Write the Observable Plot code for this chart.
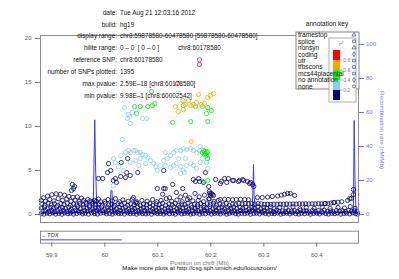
<!DOCTYPE html>
<html><head><meta charset="utf-8">
<script src="https://cdn.jsdelivr.net/npm/d3@7"></script>
<script src="https://cdn.jsdelivr.net/npm/@observablehq/plot@0.6"></script>
<style>body{margin:0;background:#fff;} #chart svg{display:block;}</style>
</head><body><div id="chart"></div>
<script>
// ---------------- data ----------------
const infoLabels = ["date:","build:","display range:","hilite range:","reference SNP:","number of SNPs plotted:","max pvalue:","min pvalue:"];
const infoValues = ["Tue Aug 21 12:03:16 2012","hg19","chr8:59878580-60478580 [59878580-60478580]","0 \u2013 0  [ 0 \u2013 0 ]","chr8:60178580","1395","2.59E\u201318 [chr8:60178580]","9.98E\u20131 [chr8:60002542]"];
const annotationKeys = ["framestop","splice","nonsyn","coding","utr","tfbscons","mcs44placental","no annotation","none"];
const annotationSymbols = ["triangle","square","triangle","diamond","square","square","square","diamond","circle"];
const r2Colors = ["#ff0000","#ffa500","#00ff00","#87cefa","#000080"];
const r2Labels = ["0.8","0.6","0.4","0.2"];
const leftTicks = [0,5,10,15,20];
const recombTicks = [0,20,40,60,80,100];
const xTicks = [59.9,60.0,60.1,60.2,60.3,60.4];
const genes = [{name:"TOX", start:59.718, end:60.032}];
const refSnp = [{name:"chr8:60178580", pos:60.1786, logp:17.59}];

const recombPos = [59.879,59.892,59.905,59.918,59.932,59.946,59.960,59.972,59.978,59.9795,59.981,59.9825,59.985,59.995,60.004,60.010,60.0115,60.0135,60.015,60.020,60.035,60.055,60.075,60.095,60.115,60.135,60.155,60.175,60.190,60.210,60.230,60.250,60.270,60.278,60.2795,60.2805,60.2815,60.284,60.300,60.320,60.340,60.360,60.380,60.400,60.420,60.440,60.455,60.466,60.469,60.4705,60.472,60.474,60.479];
const recombRate = [0.6,0.9,0.5,1.1,0.7,1.3,0.8,1.6,2.5,30,55.7,28,2.0,1.2,0.9,2.0,14,14,2.2,0.8,1.0,0.6,1.2,0.7,0.9,1.4,0.8,1.1,1.6,0.9,0.7,1.2,1.5,2.5,15,29.4,12,1.8,0.8,1.0,0.6,0.9,1.3,0.7,1.0,1.2,1.4,1.3,3,55.3,20,1.5,1.2];

const red = [[60.1786,17.05],[60.137,14.88]];
const orange = [[60.147,12.95],[60.152,12.50],[60.148,11.93],[60.162,12.38],[60.139,11.70],[60.133,12.27],[60.167,12.50],[60.173,12.72],[60.177,13.63],[60.182,12.50],[60.188,12.61],[60.194,13.29],[60.199,13.52],[60.205,13.75],[60.163,8.29],[60.158,12.95]];
const green = [[60.056,12.27],[60.067,12.27],[60.081,12.27],[60.090,12.38],[60.094,12.61],[60.060,11.48],[60.088,13.97],[60.128,10.45],[60.148,12.38],[60.171,12.27],[60.162,10.56],[60.192,11.48],[60.194,10.56],[60.184,12.27],[60.194,12.16],[60.201,11.81],
 [60.184,7.04],[60.188,7.16],[60.190,6.93],[60.192,7.04],[60.194,7.16],[60.188,6.82],[60.192,6.7],[60.186,7.27],[60.194,6.36],[60.194,3.86],[60.184,3.75]];
const lightblue = [[60.037,12.16],[60.045,11.36],[60.047,11.13],[60.052,11.59],[60.048,10.34],[60.043,10.91],[60.071,10.91],[60.079,10.91],[60.033,8.52],
 [60.016,6.36],[60.020,5.91],[60.026,5.45],[60.030,6.70],[60.039,7.04],[60.045,7.27],[60.048,7.04],[60.054,7.27],[60.058,7.27],[60.062,7.04],[60.067,7.04],[60.071,6.82],[60.077,6.70],[60.081,6.48],[60.086,6.13],[60.092,5.79],[60.096,5.45],[60.099,5.00],[60.058,6.13],[60.067,6.36],[60.048,5.91],[60.064,5.57],[60.077,5.79],[60.035,5.00],
 [60.111,6.13],[60.118,6.36],[60.124,6.70],[60.130,7.04],[60.135,7.27],[60.143,7.27],[60.148,7.50],[60.154,7.38],[60.162,7.50],[60.167,7.27],[60.173,7.04],[60.179,7.27],[60.180,7.73],[60.105,5.57],[60.114,5.57],[60.124,5.34],[60.130,5.57],[60.135,5.79],[60.143,5.45],[60.148,5.00],[60.154,5.57],[60.162,5.79],[60.167,5.57],[60.173,5.23],[60.180,5.91],[60.184,6.36],[60.192,5.91],[60.194,5.23],[60.139,6.36],[60.152,6.36],[60.114,7.04],
 [60.016,3.30],[60.143,4.66],[60.150,4.77]];
const navy = [
 [59.880,.10],[59.885,.04],[59.891,.16],[59.896,.08],[59.902,.19],[59.907,.05],[59.913,.13],[59.919,.03],[59.924,.18],[59.930,.09],[59.935,.15],[59.941,.05],[59.947,.11],[59.952,.2],[59.958,.07],[59.963,.14],[59.969,.04],[59.975,.17],[59.981,.09],[59.986,.05],[59.992,.15],[59.998,.2],[60.003,.07],[60.009,.12],[60.014,.04],[60.020,.17],[60.026,.1],[60.031,.14],[60.037,.05],[60.043,.19],[60.048,.09],[60.054,.13],[60.060,.04],[60.065,.17],[60.071,.1],[60.077,.07],[60.082,.15],[60.088,.04],[60.094,.19],[60.099,.1],[60.105,.12],[60.111,.05],[60.116,.17],[60.122,.09],[60.128,.14],[60.133,.04],[60.139,.19],[60.145,.07],[60.150,.12],[60.156,.15],[60.162,.05],[60.167,.1],[60.173,.17],[60.179,.04],[60.184,.13],[60.190,.09],[60.196,.19],[60.201,.05],[60.207,.12],[60.213,.15],[60.218,.07],[60.224,.17],[60.230,.04],[60.235,.11],[60.241,.19],[60.247,.09],[60.252,.05],[60.258,.14],[60.264,.1],[60.269,.17],[60.275,.04],[60.281,.12],[60.286,.15],[60.292,.07],[60.298,.19],[60.303,.1],[60.309,.05],[60.315,.13],[60.320,.09],[60.326,.17],[60.332,.04],[60.337,.12],[60.343,.15],[60.349,.07],[60.354,.19],[60.360,.1],[60.366,.05],[60.371,.14],[60.377,.09],[60.383,.17],[60.388,.04],[60.394,.12],[60.400,.15],[60.405,.07],[60.411,.19],[60.417,.1],[60.422,.05],[60.428,.13],[60.434,.09],[60.439,.17],[60.445,.04],[60.451,.12],[60.456,.15],[60.462,.07],[60.468,.19],[60.473,.1],[60.477,.05],
 [59.882,.38],[59.888,.45],[59.894,.32],[59.900,.48],[59.905,.35],[59.911,.42],[59.917,.3],[59.922,.47],[59.928,.36],[59.934,.44],[59.939,.33],[59.945,.49],[59.950,.38],[59.956,.3],[59.962,.45],[59.967,.36],[59.973,.42],[59.979,.32],[59.985,.48],[59.990,.37],[59.996,.43],[60.002,.31],[60.007,.46],[60.013,.35],[60.018,.41],[60.024,.3],[60.029,.47],[60.035,.38],[60.041,.44],[60.046,.33],[60.052,.49],[60.058,.36],[60.063,.42],[60.069,.31],[60.075,.46],[60.080,.38],[60.086,.44],[60.091,.32],[60.097,.48],[60.103,.36],[60.108,.41],[60.114,.3],[60.120,.46],[60.125,.37],[60.131,.44],[60.137,.33],[60.142,.48],[60.148,.36],[60.154,.42],[60.159,.31],[60.165,.46],[60.171,.38],[60.176,.44],[60.182,.32],[60.188,.48],[60.193,.36],[60.199,.42],[60.205,.3],[60.210,.46],[60.216,.37],[60.222,.44],[60.227,.33],[60.233,.49],[60.239,.36],[60.244,.41],[60.250,.31],[60.256,.46],[60.261,.38],[60.267,.44],[60.273,.32],[60.278,.48],[60.284,.36],[60.290,.42],[60.295,.3],[60.301,.46],[60.307,.37],[60.312,.44],[60.318,.33],[60.324,.48],[60.329,.36],[60.335,.41],[60.341,.31],[60.346,.46],[60.352,.38],[60.358,.44],[60.363,.32],[60.369,.48],[60.375,.36],[60.380,.42],[60.386,.3],[60.392,.46],[60.397,.37],[60.403,.44],[60.409,.33],[60.414,.49],[60.420,.36],[60.426,.41],[60.431,.31],[60.437,.46],[60.443,.38],[60.448,.44],[60.454,.32],[60.460,.48],[60.465,.36],[60.471,.42],[60.476,.3],
 [59.880,.72],[59.886,.85],[59.892,.65],[59.898,.8],[59.903,.7],[59.909,.88],[59.915,.62],[59.920,.78],[59.926,.68],[59.932,.84],[59.937,.6],[59.943,.75],[59.949,.9],[59.954,.66],[59.960,.8],[59.966,.7],[59.971,.86],[59.977,.63],[59.983,.77],[59.988,.69],[59.994,.85],[60.000,.62],[60.005,.8],[60.011,.72],[60.017,.88],[60.022,.65],[60.028,.79],[60.034,.7],[60.039,.86],[60.045,.61],[60.051,.76],[60.056,.68],[60.062,.84],[60.068,.63],[60.073,.78],[60.079,.7],[60.085,.87],[60.090,.64],[60.096,.8],[60.102,.7],[60.107,.85],[60.113,.62],[60.119,.76],[60.124,.69],[60.130,.88],[60.136,.65],[60.141,.8],[60.147,.71],[60.153,.84],[60.158,.6],[60.164,.77],[60.170,.68],[60.175,.86],[60.181,.63],[60.187,.79],[60.192,.7],[60.198,.88],[60.204,.64],[60.209,.8],[60.215,.72],[60.221,.85],[60.226,.62],[60.232,.77],[60.238,.69],[60.243,.86],[60.249,.65],[60.255,.8],[60.260,.7],[60.266,.84],[60.272,.62],[60.277,.78],[60.283,.7],[60.289,.88],[60.294,.64],[60.300,.8],[60.306,.71],[60.312,.85],[60.320,.66],[60.330,.8],[60.342,.72],[60.355,.86],[60.368,.65],[60.380,.78],[60.395,.7],[60.410,.84],[60.425,.68],[60.440,.8],[60.452,.74],[60.463,.9],[60.472,.7],
 [59.881,1.2],[59.887,1.05],[59.893,1.28],[59.899,1.1],[59.905,1.22],[59.911,1.02],[59.917,1.25],[59.923,1.12],[59.929,1.3],[59.935,1.05],[59.941,1.18],[59.947,1.08],[59.953,1.27],[59.959,1.1],[59.965,1.2],[59.971,1.03],[59.977,1.26],[59.983,1.12],[59.989,1.22],[59.995,1.06],[60.001,1.28],[60.007,1.1],[60.013,1.2],[60.019,1.04],[60.025,1.25],[60.031,1.12],[60.037,1.3],[60.043,1.06],[60.049,1.2],[60.055,1.1],[60.061,1.27],[60.067,1.03],[60.073,1.18],[60.079,1.1],[60.085,1.25],[60.091,1.05],[60.097,1.2],[60.103,1.12],[60.109,1.28],[60.115,1.04],[60.121,1.22],[60.127,1.1],[60.133,1.26],[60.139,1.06],[60.145,1.2],[60.151,1.12],[60.157,1.3],[60.163,1.05],[60.169,1.18],[60.175,1.1],[60.181,1.25],[60.187,1.04],[60.193,1.22],[60.199,1.12],[60.205,1.28],[60.211,1.06],[60.217,1.2],[60.223,1.1],[60.229,1.26],[60.235,1.04],[60.241,1.18],[60.247,1.12],[60.253,1.25],[60.259,1.2],[60.265,1.24],[60.271,1.22],[60.277,1.25],[60.283,1.2],[60.289,1.24],[60.295,1.22],[60.301,1.14],[60.307,1.16],[60.313,1.15],[60.319,1.17],[60.325,1.16],[60.331,1.18],[60.337,1.17],[60.343,1.19],[60.349,1.18],[60.355,1.2],[60.361,1.19],[60.367,1.21],[60.373,1.2],[60.379,1.22],[60.385,1.2],[60.391,1.22],[60.397,1.21],[60.403,1.23],[60.409,1.22],[60.415,1.24],[60.421,1.23],[60.427,1.3],[60.433,1.36],[60.440,1.4],[60.447,1.45],
 [59.880,1.6],[59.884,1.9],[59.888,1.5],[59.892,2.1],[59.896,1.7],[59.900,2.25],[59.904,1.55],[59.908,2.35],[59.912,1.8],[59.916,2.3],[59.920,1.6],[59.924,2.2],[59.928,1.75],[59.932,2.05],[59.936,1.5],[59.940,1.95],[59.944,1.65],[59.948,2.0],[59.952,1.5],[59.956,1.85],[59.960,1.6],[59.964,1.4],[59.968,1.7],[59.972,1.55],[59.976,1.45],[59.980,1.6],[59.984,1.5],[59.988,1.75],[59.992,1.45],
 [60.000,1.5],[60.006,1.7],[60.014,1.55],[60.020,1.8],[60.028,1.45],[60.034,1.65],[60.044,1.5],[60.052,1.75],[60.060,1.45],[60.070,1.6],[60.080,1.5],[60.090,1.7],[60.098,1.45],[60.106,1.6],[60.116,1.8],[60.126,1.5],[60.136,1.65],[60.146,1.45],[60.156,1.7],[60.166,1.55],[60.176,1.6],[60.186,1.45],[60.196,1.75],[60.206,1.5],[60.214,1.6],
 [60.218,1.7],[60.226,1.72],[60.233,1.7],[60.241,1.68],[60.248,1.7],[60.256,1.72],[60.264,1.7],[60.271,1.68],
 [60.288,1.93],[60.297,1.93],[60.307,1.98],[60.316,2.05],[60.326,2.1],[60.333,2.2],[60.339,2.3],[60.345,2.39],[60.350,2.39],[60.358,2.16],
 [59.939,3.41],[59.941,2.95],[59.937,2.73],[59.943,3.18],
 [59.996,4.09],[60.007,5.79],[60.011,5.0],[60.005,4.77],[60.016,3.86],[60.020,4.09],[60.030,4.32],[60.039,4.2],[60.041,4.77],[60.031,5.91],[60.043,6.36],[60.054,1.93],[60.058,1.36],[60.099,2.95],[60.111,2.95],[60.111,5.0],[60.128,3.41],[60.147,2.95],[60.167,3.98],[60.177,4.09],[59.988,4.09],[60.062,4.77],[60.048,4.43],[60.022,3.64],[60.114,2.95],[60.171,3.75],[60.179,3.75],[60.186,3.64],[60.196,3.18],[60.197,2.61],[60.203,2.27],[60.199,2.16],[60.218,3.52],[60.230,3.64],[60.233,4.09],[60.241,3.86],[60.252,3.75],[60.262,3.86],[60.273,3.52],[60.190,4.77],[60.209,3.98],[60.220,3.75],[60.226,4.09],[60.243,3.86],[60.254,3.86],[60.260,3.98],[60.269,3.75],[60.275,3.64],[60.279,3.41],[60.281,3.18],[60.201,2.39],[60.205,2.16],[60.197,1.8],[60.198,2.4],
 [60.109,2.3],[60.122,1.9],[60.135,2.5],[60.143,2.0],[60.152,2.2],[60.160,1.9],[60.170,2.4],[60.178,2.0],[60.188,2.2],
 [60.469,2.84],[60.465,1.82],[60.462,1.82],[60.458,1.59],[60.469,2.27],[60.432,1.36],[60.416,1.25]
];

// ---------------- layout / style ----------------
const FONT = "'Liberation Sans', Arial, Helvetica, sans-serif";
const xDomain = [59.8786, 60.4786];
const K = 0.1932; // recombination rate -> -log10 p scale factor
const recomb = recombPos.map((p, i) => ({pos: p, rate: recombRate[i]}));
const X = d => d[0], Y = d => d[1];
const dotOpts = (c) => ({x: X, y: Y, r: 2.1, stroke: c, strokeWidth: 0.8});
const geneRows = genes.map(d => ({...d, x1: Math.max(d.start, xDomain[0]), lane: 0.28, labelLane: 0.64}));

const main = Plot.plot({
  width: 399, height: 226,
  marginLeft: 40, marginRight: 41, marginTop: 35, marginBottom: 4,
  x: {domain: xDomain, axis: null},
  y: {domain: [-0.909, 20.34], axis: null},
  style: {fontFamily: FONT, fontSize: "6px", background: "white", overflow: "visible"},
  marks: [
    Plot.line(recomb, {x: "pos", y: d => d.rate * K, stroke: "#3a3aff", strokeWidth: 1}),
    Plot.dot(navy, dotOpts("#000080")),
    Plot.dot(lightblue, dotOpts("#87cefa")),
    Plot.dot(green, dotOpts("#00f000")),
    Plot.dot(orange, dotOpts("#ffa500")),
    Plot.dot(red, dotOpts("#ff0000")),
    Plot.dot(refSnp, {x: "pos", y: "logp", r: 2.1, stroke: "#9632b8", strokeWidth: 0.8}),
    Plot.text(refSnp, {x: "pos", y: "logp", text: "name", dy: -12, fontSize: 6.4, fill: "#111"}),
    Plot.frame({stroke: "#8c8c8c", strokeWidth: 1}),
    Plot.axisY({ticks: leftTicks, anchor: "left", tickSize: 5, tickPadding: 4, stroke: "#777", fill: "#555", label: null}),
    Plot.axisY({ticks: recombTicks.map(r => r * K), tickFormat: d => Math.round(d / K), anchor: "right",
      tickSize: 5, tickPadding: 2.5, stroke: "#6d6dff", fill: "#6d6dff", label: null})
  ]
});

const geneplot = Plot.plot({
  width: 399, height: 53,
  marginLeft: 40, marginRight: 41, marginTop: 4.7, marginBottom: 36.3,
  x: {domain: xDomain, axis: null},
  y: {domain: [0, 1], axis: null},
  style: {fontFamily: FONT, fontSize: "6px", background: "white", overflow: "visible"},
  marks: [
    Plot.frame({stroke: "#8c8c8c", strokeWidth: 1}),
    Plot.link(geneRows, {x1: "x1", x2: "end", y1: "lane", y2: "lane", stroke: "#4848b8", strokeWidth: 1}),
    Plot.text(geneRows, {x: "x1", y: "labelLane", text: d => "\u2190" + d.name,
      textAnchor: "start", dx: 1, fontStyle: "italic", fontSize: 5.6, fill: "#111"}),
    Plot.axisX({ticks: xTicks, tickFormat: d => String(+d.toFixed(1)), tickSize: 4, tickPadding: 6, stroke: "#777", fill: "#555", label: null}),
    Plot.text(["Position on chr8 (Mb)"], {frameAnchor: "bottom", dy: 21.6, fill: "#777", fontSize: 6.2}),
    Plot.text(["Make more plots at http://csg.sph.umich.edu/locuszoom/"], {frameAnchor: "bottom", dy: 26.6, fill: "#111", fontSize: 6.2})
  ]
});

const chart = document.getElementById("chart");
chart.appendChild(main);
chart.appendChild(geneplot);

// ---------------- annotations (info text, legends) ----------------
const svg = d3.select(main);
const g = svg.append("g").attr("font-family", FONT).attr("text-anchor", "start");

// info block
const infoY0 = 12.3, infoStep = 11.93, infoFs = 6.4;
g.append("g").selectAll("text").data(infoLabels).join("text")
  .attr("x", 117).attr("y", (d, i) => infoY0 + i * infoStep + 0.36 * infoFs)
  .attr("text-anchor", "end").attr("font-size", infoFs).attr("fill", "#111").text(d => d);
g.append("g").selectAll("text").data(infoValues).join("text")
  .attr("x", 120).attr("y", (d, i) => infoY0 + i * infoStep + 0.36 * infoFs)
  .attr("text-anchor", "start").attr("font-size", infoFs).attr("fill", "#111").style("white-space", "pre").text(d => d);

// annotation key box
g.append("text").attr("x", 327).attr("y", 24 + 2.3).attr("text-anchor", "middle")
  .attr("font-size", 6.5).attr("fill", "#111").text("annotation key");
g.append("rect").attr("x", 296).attr("y", 32).attr("width", 63).attr("height", 57)
  .attr("fill", "white").attr("stroke", "#666").attr("stroke-width", 0.8);

// r2 legend
g.append("rect").attr("x", 329).attr("y", 38).attr("width", 27).attr("height", 64)
  .attr("fill", "white").attr("stroke", "#999").attr("stroke-width", 0.8);
g.append("g").selectAll("rect").data(r2Colors).join("rect")
  .attr("x", 333).attr("y", (d, i) => 50 + i * 10).attr("width", 7).attr("height", 10).attr("fill", d => d);
g.append("g").selectAll("line").data(r2Labels).join("line")
  .attr("x1", 340).attr("x2", 342.5).attr("y1", (d, i) => 60 + i * 10).attr("y2", (d, i) => 60 + i * 10)
  .attr("stroke", "#777").attr("stroke-width", 0.6);
g.append("g").selectAll("text").data(r2Labels).join("text")
  .attr("x", 343.3).attr("y", (d, i) => 60 + i * 10 + 1.8).attr("text-anchor", "start")
  .attr("font-size", 5).attr("fill", "#777").text(d => d);
const r2t = g.append("text").attr("x", 339).attr("y", 46).attr("text-anchor", "start")
  .attr("font-size", 6).attr("fill", "#777").attr("font-style", "italic");
r2t.append("tspan").text("r");
r2t.append("tspan").attr("dy", -2.5).attr("font-size", 4).text("2");

// annotation key entries
const akY0 = 34.8, akStep = 6.45, akFs = 6.6;
g.append("g").selectAll("text").data(annotationKeys).join("text")
  .attr("x", 298).attr("y", (d, i) => akY0 + i * akStep + 0.36 * akFs).attr("text-anchor", "start")
  .attr("font-size", akFs).attr("fill", "#111").text(d => d);
const symMap = {triangle: d3.symbolTriangle, square: d3.symbolSquare, diamond: d3.symbolDiamond, circle: d3.symbolCircle};
g.append("g").selectAll("path").data(annotationSymbols).join("path")
  .attr("transform", (d, i) => `translate(354,${akY0 + i * akStep})`)
  .attr("d", d => d3.symbol(symMap[d], 7)())
  .attr("fill", "none").attr("stroke", "#3434c8").attr("stroke-width", 0.7);

// right axis title
g.append("text").attr("transform", "translate(381.7,130) rotate(90)")
  .attr("text-anchor", "middle").attr("dy", "0.35em").attr("font-size", 6.2)
  .attr("fill", "#7777ff").text("Recombination rate (cM/Mb)");
</script>
</body></html>
